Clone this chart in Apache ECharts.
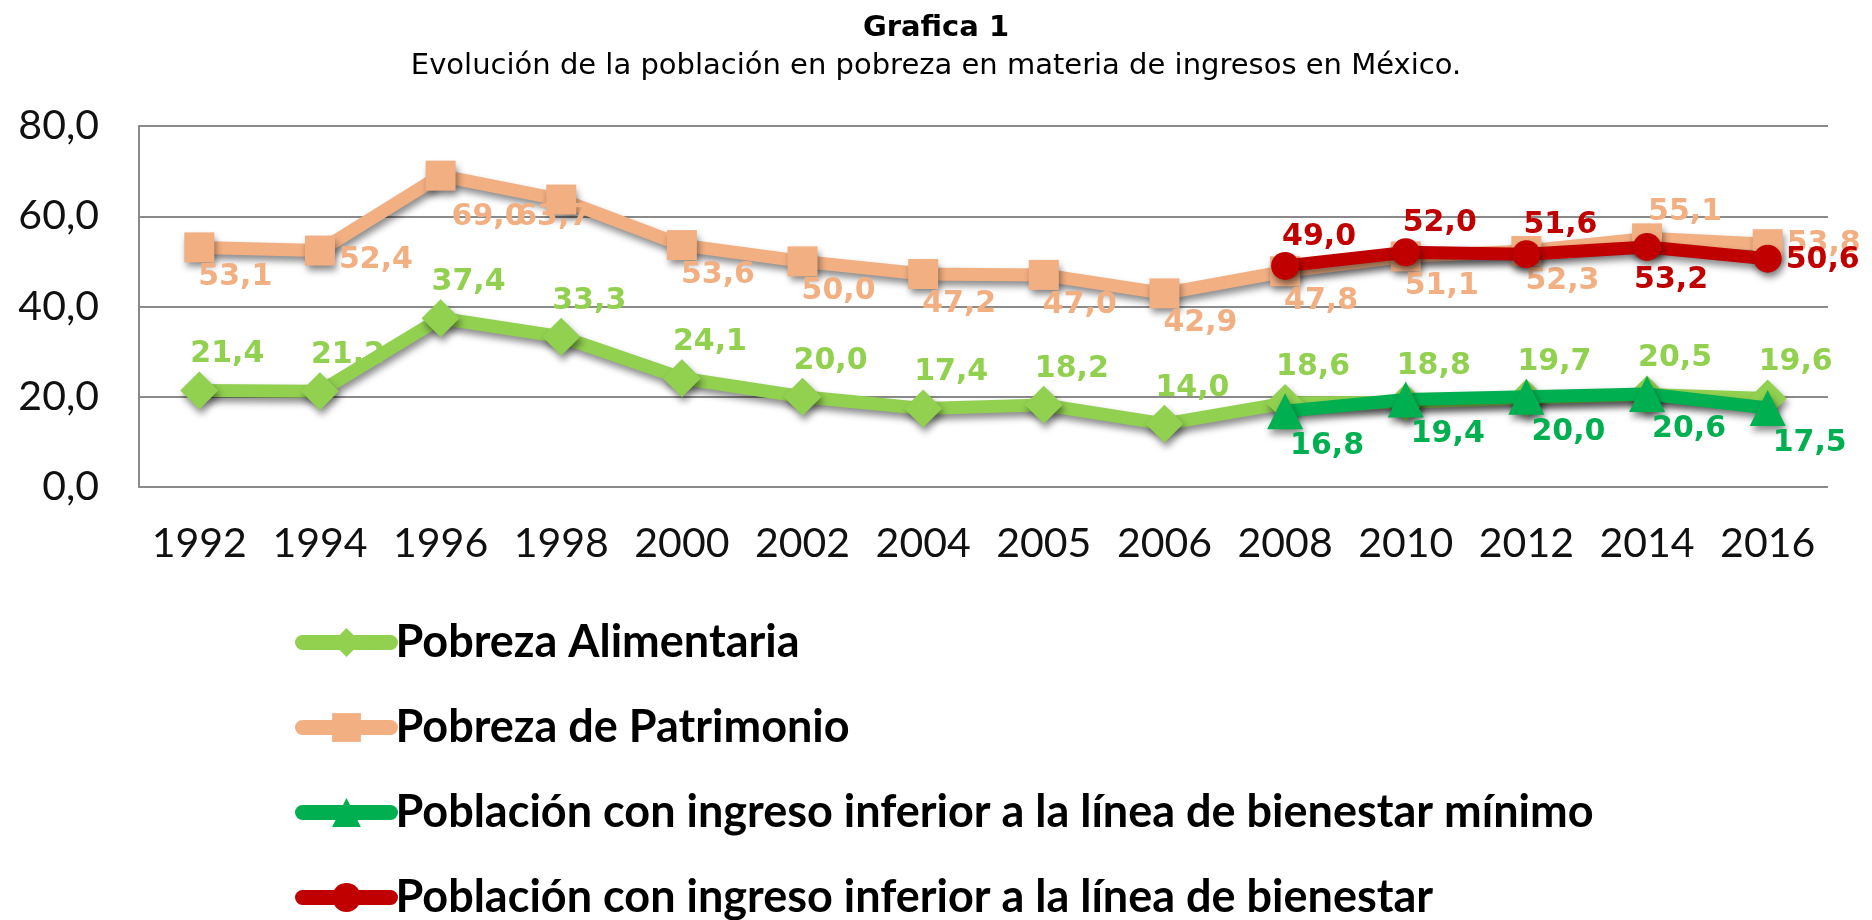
<!DOCTYPE html>
<html>
<head>
<meta charset="utf-8">
<script src="https://cdn.jsdelivr.net/npm/echarts@6/dist/echarts.min.js"></script>
<style>
  html, body { margin: 0; padding: 0; background: #ffffff; }
  #chart { width: 1872px; height: 920px; }
</style>
</head>
<body>
<div id="chart"></div>
<script>
// ---- data ----
const years = ['1992','1994','1996','1998','2000','2002','2004','2005','2006','2008','2010','2012','2014','2016'];
const pobrezaAlimentaria = [21.4, 21.2, 37.4, 33.3, 24.1, 20.0, 17.4, 18.2, 14.0, 18.6, 18.8, 19.7, 20.5, 19.6];
const pobrezaPatrimonio  = [53.1, 52.4, 69.0, 63.7, 53.6, 50.0, 47.2, 47.0, 42.9, 47.8, 51.1, 52.3, 55.1, 53.8];
const bienestarMinimo    = [null, null, null, null, null, null, null, null, null, 16.8, 19.4, 20.0, 20.6, 17.5];
const bienestar          = [null, null, null, null, null, null, null, null, null, 49.0, 52.0, 51.6, 53.2, 50.6];
const seriesNames = [
  'Pobreza Alimentaria',
  'Pobreza de Patrimonio',
  'Población con ingreso inferior a la línea de bienestar mínimo',
  'Población con ingreso inferior a la línea de bienestar'
];
const yTicks = [0, 20, 40, 60, 80];

// ---- styling ----
const fmt = v => Number(v).toFixed(1).replace('.', ',');
const colors = ['#92D050', '#F2AF82', '#00B050', '#C00000'];
const shadow = { shadowColor: 'rgba(0,0,0,0.45)', shadowBlur: 7, shadowOffsetX: 2, shadowOffsetY: 5 };
const labelFont = { fontFamily: 'DejaVu Sans', fontWeight: 'bold', fontSize: 30 };

function withLabels(values, overrides) {
  return values.map((v, i) => {
    if (v === null) return null;
    const o = overrides[i];
    if (!o) return v;
    return { value: v, label: { position: o[0], offset: o[1] } };
  });
}

function makeSeries(idx, values, symbol, size, defPos, defOffset, overrides, z) {
  return {
    name: seriesNames[idx],
    type: 'line',
    data: withLabels(values, overrides || {}),
    symbol: symbol,
    symbolSize: size,
    connectNulls: false,
    z: z,
    lineStyle: Object.assign({ color: colors[idx], width: 13, cap: 'round', join: 'round' }, shadow),
    itemStyle: Object.assign({ color: colors[idx] }, shadow),
    label: Object.assign({
      show: true, position: defPos, offset: defOffset, distance: 4,
      color: colors[idx], formatter: p => fmt(p.value)
    }, labelFont),
    emphasis: { disabled: true },
    animation: false
  };
}

const chart = echarts.init(document.getElementById('chart'));
chart.setOption({
  backgroundColor: '#ffffff',
  animation: false,
  title: [
    { text: 'Grafica 1', left: 'center', top: 9,
      textStyle: { fontFamily: 'DejaVu Sans', fontWeight: 'bold', fontSize: 29, color: '#000' } },
    { text: 'Evolución de la población en pobreza en materia de ingresos en México.', left: 'center', top: 47,
      textStyle: { fontFamily: 'DejaVu Sans', fontWeight: 'normal', fontSize: 29, color: '#000' } }
  ],
  grid: { left: 139, right: 44, top: 126, bottom: 433, containLabel: false },
  xAxis: {
    type: 'category',
    data: years,
    boundaryGap: true,
    axisLine: { show: false },
    axisTick: { show: false },
    axisLabel: { fontFamily: 'Lato', fontSize: 41, color: '#111', margin: 36, interval: 0 },
    splitLine: { show: false }
  },
  yAxis: {
    type: 'value',
    min: yTicks[0], max: yTicks[yTicks.length - 1], interval: yTicks[1] - yTicks[0],
    axisLine: { show: true, lineStyle: { color: '#8a8a8a', width: 2 } },
    axisTick: { show: false },
    axisLabel: { fontFamily: 'Lato', fontSize: 41, color: '#111', margin: 40, formatter: v => fmt(v) },
    splitLine: { show: true, lineStyle: { color: '#8a8a8a', width: 2 } }
  },
  legend: {
    orient: 'vertical',
    left: 295,
    top: 620,
    height: 400,
    padding: 0,
    itemWidth: 88,
    itemHeight: 36,
    itemGap: 40,
    selectedMode: false,
    lineStyle: { width: 15, cap: 'round' },
    textStyle: { fontFamily: 'Lato', fontWeight: 'bold', fontSize: 45, lineHeight: 40, color: '#000' },
    data: seriesNames
  },
  series: [
    makeSeries(0, pobrezaAlimentaria, 'diamond', 38, 'top', [28, 2], {}, 2),
    makeSeries(1, pobrezaPatrimonio, 'rect', 30, 'bottom', [36, -4],
      { 1: ['right', [0, 10]], 2: ['bottom', [48, 8]], 3: ['bottom', [-8, -16]], 12: ['top', [38, 8]], 13: ['right', [0, 0]] }, 2),
    makeSeries(2, bienestarMinimo, 'triangle', 36, 'bottom', [42, -2], {}, 4),
    makeSeries(3, bienestar, 'circle', 28, 'top', [34, 4], { 12: ['bottom', [24, 0]], 13: ['right', [0, 2]] }, 5)
  ]
});
</script>
</body>
</html>
